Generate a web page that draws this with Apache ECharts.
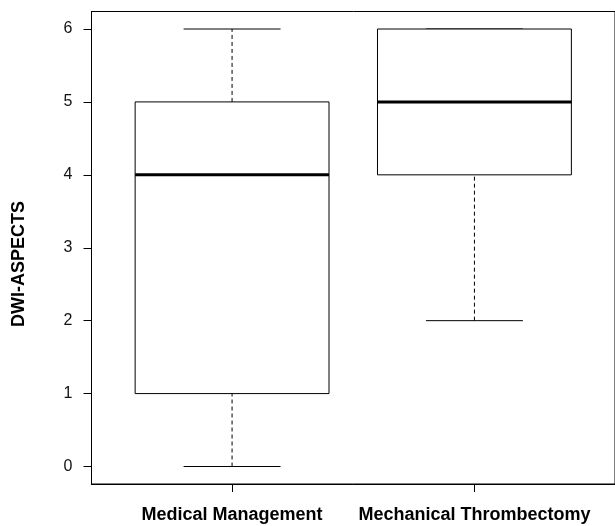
<!DOCTYPE html>
<html>
<head>
<meta charset="utf-8">
<script src="https://cdn.jsdelivr.net/npm/echarts@6/dist/echarts.min.js"></script>
<style>html,body{margin:0;padding:0;background:#fff}#c{width:615px;height:526px}</style>
</head>
<body>
<div id="c"></div>
<script>
const categories = ['Medical Management', 'Mechanical Thrombectomy'];
const whiskerLow = [0, 2];
const q1 = [1, 4];
const median = [4, 5];
const q3 = [5, 6];
const whiskerHigh = [6, 6];
const yTicks = [0, 1, 2, 3, 4, 5, 6];
const yTitle = 'DWI-ASPECTS';

const font = 'Liberation Sans, Arial, sans-serif';
const data = categories.map((c, i) => [i + 1, whiskerLow[i], q1[i], median[i], q3[i], whiskerHigh[i]]);

const chart = echarts.init(document.getElementById('c'));
chart.setOption({
  animation: false,
  backgroundColor: '#fff',
  grid: { left: 91.5, top: 11.5, width: 528, height: 472.5, show: true, borderColor: '#000', borderWidth: 1, backgroundColor: 'transparent' },
  graphic: [{
    type: 'text', x: 19, y: 264, rotation: Math.PI / 2,
    style: { text: yTitle, align: 'center', verticalAlign: 'middle', fontFamily: font, fontSize: 18, fontWeight: 'bold', fill: '#000' }
  }],
  xAxis: {
    type: 'value', min: 0.42, max: 2.58,
    splitLine: { show: false },
    axisLine: { show: true, onZero: false, lineStyle: { color: '#000', width: 1 } },
    axisTick: { show: true, length: 8, lineStyle: { color: '#000' }, customValues: categories.map((c, i) => i + 1) },
    axisLabel: {
      customValues: categories.map((c, i) => i + 1),
      formatter: v => categories[Math.round(v) - 1] || '',
      fontFamily: font, fontSize: 18, fontWeight: 'bold', color: '#000', margin: 22
    }
  },
  yAxis: {
    type: 'value', min: -0.24, max: 6.24,
    splitLine: { show: false },
    axisLine: { show: true, onZero: false, lineStyle: { color: '#000', width: 1 } },
    axisTick: { show: true, length: 8, lineStyle: { color: '#000' }, customValues: yTicks },
    axisLabel: { customValues: yTicks, fontFamily: font, fontSize: 16, color: '#111', margin: 19 }
  },
  series: [{
    type: 'custom',
    data: data,
    renderItem: function (params, api) {
      const x = api.value(0);
      const halfBox = api.size([0.8, 0])[0] / 2;
      const halfCap = api.size([0.4, 0])[0] / 2;
      const pLo = api.coord([x, api.value(1)]);
      const pQ1 = api.coord([x, api.value(2)]);
      const pMed = api.coord([x, api.value(3)]);
      const pQ3 = api.coord([x, api.value(4)]);
      const pHi = api.coord([x, api.value(5)]);
      const cx = pLo[0];
      const solid = { stroke: '#000', lineWidth: 1, fill: null };
      const dashed = { stroke: '#000', lineWidth: 1, lineDash: [4, 3] };
      return {
        type: 'group',
        children: [
          { type: 'line', shape: { x1: cx, y1: pQ3[1], x2: cx, y2: pHi[1] }, style: dashed },
          { type: 'line', shape: { x1: cx, y1: pLo[1], x2: cx, y2: pQ1[1] }, style: dashed },
          { type: 'line', shape: { x1: cx - halfCap, y1: pHi[1], x2: cx + halfCap, y2: pHi[1] }, style: solid },
          { type: 'line', shape: { x1: cx - halfCap, y1: pLo[1], x2: cx + halfCap, y2: pLo[1] }, style: solid },
          { type: 'rect', shape: { x: cx - halfBox, y: pQ3[1], width: 2 * halfBox, height: pQ1[1] - pQ3[1] }, style: { stroke: '#000', lineWidth: 1, fill: '#fff' } },
          { type: 'line', shape: { x1: cx - halfBox, y1: pMed[1], x2: cx + halfBox, y2: pMed[1] }, style: { stroke: '#000', lineWidth: 3 } }
        ]
      };
    }
  }]
});
</script>
</body>
</html>
